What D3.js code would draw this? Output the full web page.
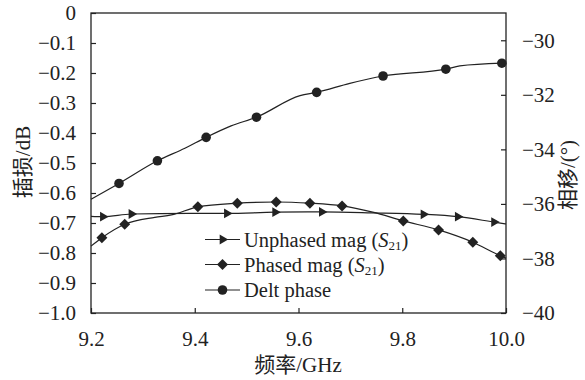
<!DOCTYPE html>
<html>
<head>
<meta charset="utf-8">
<script src="https://cdn.jsdelivr.net/npm/d3@7/dist/d3.min.js"></script>
<style>
  html, body { margin: 0; padding: 0; background: #fff; }
  svg { display: block; }
  text { font-family: "Liberation Serif", "Times New Roman", "Noto Sans CJK SC", serif; fill: #222; }
</style>
</head>
<body>
<svg id="chart" width="585" height="380"></svg>
<script>
// Insertion loss (dB, left axis) and phase shift (degrees, right axis) vs frequency (GHz)

// Unphased |S21| trace
const unphasedFreq = [9.200, 9.223, 9.278, 9.388, 9.462, 9.555, 9.645, 9.741, 9.841, 9.907, 9.977, 10.000];
const unphasedDb   = [-0.678, -0.679, -0.670, -0.668, -0.668, -0.664, -0.663, -0.666, -0.671, -0.679, -0.697, -0.703];
const unphasedMarkFreq = [9.223, 9.278, 9.462, 9.555, 9.645, 9.841, 9.907, 9.977];
const unphasedMarkDb   = [-0.679, -0.670, -0.668, -0.664, -0.663, -0.671, -0.679, -0.697];

// Phased |S21| trace
const phasedFreq = [9.200, 9.221, 9.265, 9.323, 9.355, 9.406, 9.482, 9.557, 9.622, 9.684, 9.743, 9.802, 9.870, 9.936, 9.989, 10.000];
const phasedDb   = [-0.777, -0.749, -0.704, -0.681, -0.673, -0.646, -0.634, -0.630, -0.634, -0.643, -0.664, -0.693, -0.723, -0.764, -0.809, -0.817];
const phasedMarkFreq = [9.221, 9.265, 9.406, 9.482, 9.557, 9.622, 9.684, 9.802, 9.870, 9.936, 9.989];
const phasedMarkDb   = [-0.749, -0.704, -0.646, -0.634, -0.630, -0.634, -0.643, -0.693, -0.723, -0.764, -0.809];

// Phase difference trace
const phaseFreq = [9.200, 9.254, 9.328, 9.381, 9.422, 9.470, 9.519, 9.603, 9.635, 9.699, 9.763, 9.884, 9.911, 9.992];
const phaseDeg  = [-35.83, -35.25, -34.42, -33.96, -33.56, -33.14, -32.82, -32.03, -31.91, -31.58, -31.31, -31.06, -30.94, -30.84];
const phaseMarkFreq = [9.254, 9.328, 9.422, 9.519, 9.635, 9.763, 9.884, 9.992];
const phaseMarkDeg  = [-35.25, -34.42, -33.56, -32.82, -31.91, -31.31, -31.06, -30.84];

// Axis ticks and labels
const xTicks = [9.2, 9.4, 9.6, 9.8, 10.0];
const xTickLabels = ["9.2", "9.4", "9.6", "9.8", "10.0"];
const yLeftTicks = [0, -0.1, -0.2, -0.3, -0.4, -0.5, -0.6, -0.7, -0.8, -0.9, -1.0];
const yLeftTickLabels = ["0", "\u22120.1", "\u22120.2", "\u22120.3", "\u22120.4", "\u22120.5", "\u22120.6", "\u22120.7", "\u22120.8", "\u22120.9", "\u22121.0"];
const yRightTicks = [-30, -32, -34, -36, -38, -40];
const yRightTickLabels = ["\u221230", "\u221232", "\u221234", "\u221236", "\u221238", "\u221240"];
const legendLabels = ["Unphased mag", "Phased mag", "Delt phase"];

const svg = d3.select("#chart");
const m = { left: 91, right: 506, top: 13, bottom: 313 };

const x = d3.scaleLinear().domain([9.2, 10.0]).range([m.left, m.right]);
const yL = d3.scaleLinear().domain([-1.0, 0]).range([m.bottom, m.top]);
const yR = d3.scaleLinear().domain([-40, -29]).range([m.bottom, m.top]);

const ink = "#222";
const fs = 21;      // tick labels and axis titles
const fsLeg = 20.5; // legend entries

// Frame
svg.append("rect")
  .attr("x", m.left).attr("y", m.top)
  .attr("width", m.right - m.left).attr("height", m.bottom - m.top)
  .attr("fill", "none").attr("stroke", ink).attr("stroke-width", 1.3);

function styleAxis(g) {
  g.attr("font-size", null).attr("font-family", null);
  g.select(".domain").remove();
  g.selectAll("line").attr("stroke", ink).attr("stroke-width", 1.2);
  g.selectAll("text").style("font-size", fs + "px").attr("fill", ink);
}

// Bottom axis (ticks point inward)
const xAxis = d3.axisBottom(x).tickValues(xTicks)
  .tickFormat((d, i) => xTickLabels[i]).tickSizeInner(-5).tickSizeOuter(0).tickPadding(18);
svg.append("g").attr("transform", `translate(0,${m.bottom})`).call(xAxis).call(styleAxis);

// Left axis
const yAxisL = d3.axisLeft(yL).tickValues(yLeftTicks)
  .tickFormat((d, i) => yLeftTickLabels[i]).tickSizeInner(-5).tickSizeOuter(0).tickPadding(15);
svg.append("g").attr("transform", `translate(${m.left},0)`).call(yAxisL).call(styleAxis);

// Right axis
const yAxisR = d3.axisRight(yR).tickValues(yRightTicks)
  .tickFormat((d, i) => yRightTickLabels[i]).tickSizeInner(-5).tickSizeOuter(0).tickPadding(16);
svg.append("g").attr("transform", `translate(${m.right},0)`).call(yAxisR).call(styleAxis);

// Axis titles
svg.append("text").attr("x", 298).attr("y", 372)
  .attr("text-anchor", "middle").style("font-size", fs + "px").text("频率/GHz");
svg.append("text").attr("transform", `translate(30,162) rotate(-90)`)
  .attr("text-anchor", "middle").style("font-size", fs + "px").text("插损/dB");
svg.append("text").attr("transform", `translate(575,175) rotate(-90)`)
  .attr("text-anchor", "middle").style("font-size", fs + "px").text("相移/(°)");

// Marker shapes
const triPath = d3.symbol().type(d3.symbolTriangle).size(42)();
const diaPath = d3.symbol().type(d3.symbolSquare).size(60)();
const drawTri = (g, cx, cy) => g.append("path").attr("d", triPath)
  .attr("transform", `translate(${cx},${cy}) rotate(90)`).attr("fill", ink);
const drawDia = (g, cx, cy) => g.append("path").attr("d", diaPath)
  .attr("transform", `translate(${cx},${cy}) rotate(45)`).attr("fill", ink);
const drawDot = (g, cx, cy) => g.append("circle")
  .attr("cx", cx).attr("cy", cy).attr("r", 4.8).attr("fill", ink);

const plot = svg.append("g");

function trace(fx, fy, ys) {
  const line = d3.line().x(d => x(d[0])).y(d => ys(d[1])).curve(d3.curveMonotoneX);
  plot.append("path").attr("d", line(d3.zip(fx, fy)))
    .attr("fill", "none").attr("stroke", ink).attr("stroke-width", 1.2);
}

trace(unphasedFreq, unphasedDb, yL);
trace(phasedFreq, phasedDb, yL);
trace(phaseFreq, phaseDeg, yR);

unphasedMarkFreq.forEach((f, i) => drawTri(plot, x(f), yL(unphasedMarkDb[i])));
phasedMarkFreq.forEach((f, i) => drawDia(plot, x(f), yL(phasedMarkDb[i])));
phaseMarkFreq.forEach((f, i) => drawDot(plot, x(f), yR(phaseMarkDeg[i])));

// Legend
const legend = svg.append("g");
const legX0 = 205, legX1 = 240, legTextX = 244;
const rows = [239.5, 264.5, 290];
const drawers = [drawTri, drawDia, drawDot];
legendLabels.forEach((label, i) => {
  const y = rows[i];
  legend.append("line").attr("x1", legX0).attr("x2", legX1).attr("y1", y).attr("y2", y)
    .attr("stroke", ink).attr("stroke-width", 1.2);
  drawers[i](legend, (legX0 + legX1) / 2, y);
  const t = legend.append("text").attr("x", legTextX).attr("y", y + 7).style("font-size", fsLeg + "px");
  t.append("tspan").text(label);
  if (i < 2) {
    t.append("tspan").text(" (");
    t.append("tspan").attr("font-style", "italic").text("S");
    t.append("tspan").style("font-size", "13px").attr("dy", 3).text("21");
    t.append("tspan").attr("dy", -3).text(")");
  }
});
</script>
</body>
</html>
